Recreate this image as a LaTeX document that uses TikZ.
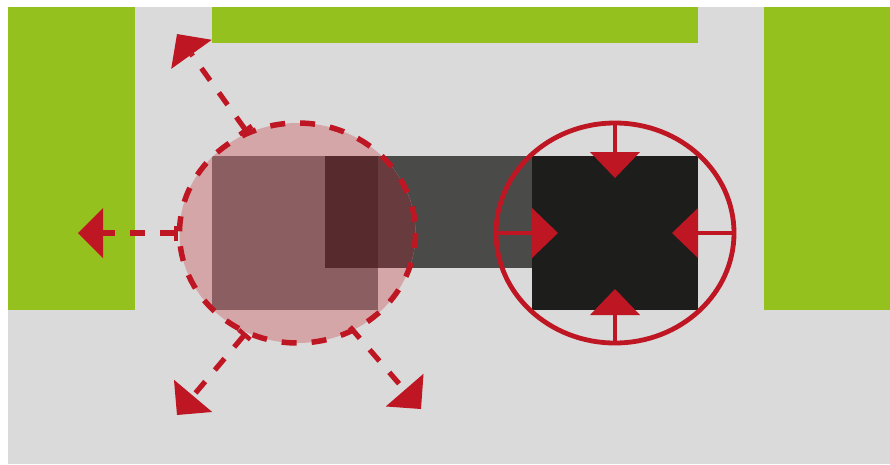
\documentclass[tikz,border=0pt]{standalone}
\usetikzlibrary{arrows.meta}
\definecolor{bgc}{HTML}{DADADA}
\definecolor{grn}{HTML}{95C11F}
\definecolor{redc}{HTML}{BE1622}
\definecolor{dkg}{HTML}{4A4A49}
\definecolor{blk}{HTML}{1D1D1B}
\definecolor{pinkc}{HTML}{D4A6A8}
\definecolor{brn}{HTML}{8B5F61}
\definecolor{midc}{HTML}{683C3E}
\definecolor{ovl}{HTML}{572B2E}
\tikzset{
  outarrow/.style={draw=redc, line width=5.2pt, dash pattern=on 15pt off 15pt,
    -{Triangle[length=25pt,width=50pt,line width=0pt]}},
  outarrowbar/.style={outarrow,
    {Bar[width=15pt,line width=4.5pt]}-{Triangle[length=25pt,width=50pt,line width=0pt]}},
  inarrow/.style={draw=redc, line width=4.8pt,
    -{Triangle[length=26pt,width=50pt,line width=0pt]}},
}
\begin{document}
\begin{tikzpicture}[x=1pt,y=-1pt]
\useasboundingbox (0,0) rectangle (890,464);
\fill[white] (0,0) rectangle (890,464);
\fill[bgc] (8,7) rectangle (890,464);
% green walls
\fill[grn] (8,7) rectangle (135,310);
\fill[grn] (212,7) rectangle (698,43);
\fill[grn] (764,7) rectangle (890,310);
% dark bar and black square
\fill[dkg] (325,156) rectangle (532,268);
\fill[blk] (532,156) rectangle (698,310);
% left circle
\coordinate (LC) at (297.5,233);
\coordinate (RC) at (615,233);
\fill[pinkc] (LC) ellipse [x radius=118, y radius=110];
\begin{scope}
\clip (LC) ellipse [x radius=118, y radius=110];
\fill[brn] (212,156) rectangle (378,310);
\fill[midc] (325,156) rectangle (532,268);
\fill[ovl] (325,156) rectangle (378,268);
\end{scope}
\draw[redc, line width=5.5pt, dash pattern=on 15pt off 15pt] (LC) ellipse [x radius=118, y radius=110];
% outward dashed arrows
\coordinate (s1) at (178,233);   \coordinate (t1) at (78,233);
\coordinate (s2) at (247,132);   \coordinate (t2) at (177,34);
\coordinate (s3) at (246,333);   \coordinate (t3) at (177,415);
\coordinate (s4) at (350,327);   \coordinate (t4) at (421,409);
\draw[outarrowbar] (s1) -- (t1);
\draw[outarrowbar] (s2) -- (t2);
\draw[outarrowbar] (s3) -- (t3);
\draw[outarrow] (s4) -- (t4);
% right circle
\draw[redc, line width=4.8pt] (RC) ellipse [x radius=119, y radius=110];
\coordinate (r1) at (615,123); \coordinate (q1) at (615,178);
\coordinate (r2) at (615,343); \coordinate (q2) at (615,289);
\coordinate (r3) at (496,233); \coordinate (q3) at (558,233);
\coordinate (r4) at (734,233); \coordinate (q4) at (672,233);
\draw[inarrow] (r1) -- (q1);
\draw[inarrow] (r2) -- (q2);
\draw[inarrow] (r3) -- (q3);
\draw[inarrow] (r4) -- (q4);
\end{tikzpicture}
\end{document}
